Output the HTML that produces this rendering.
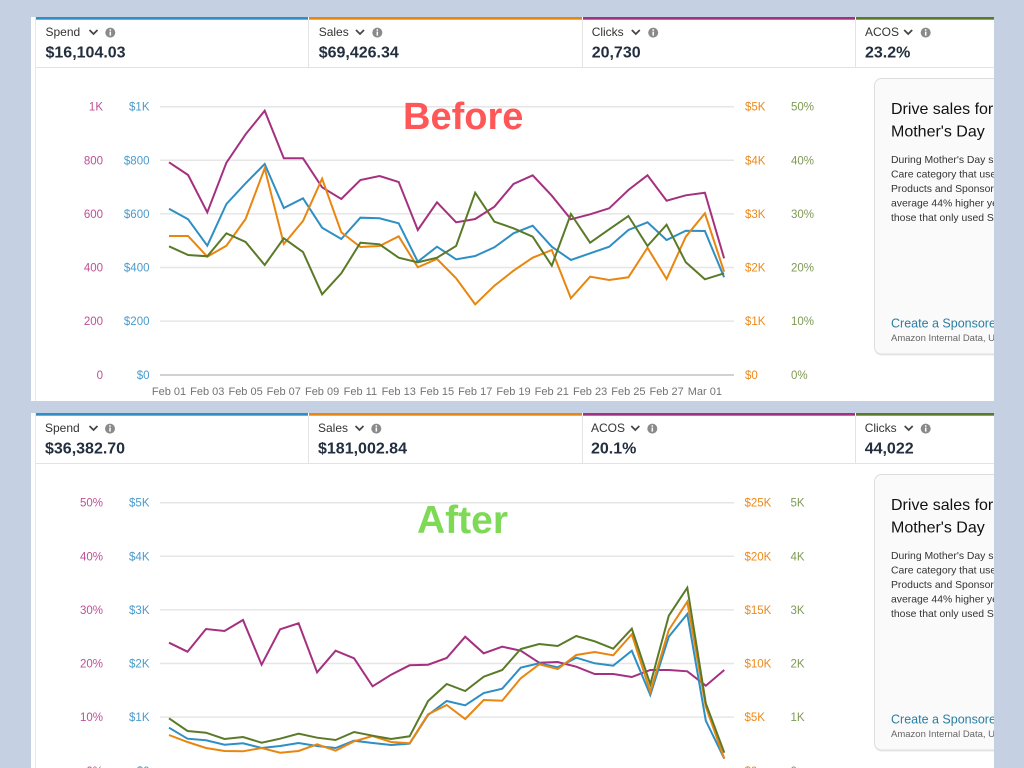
<!DOCTYPE html>
<html>
<head>
<meta charset="utf-8">
<style>
html,body{margin:0;padding:0;background:#c5d0e2;}
svg{display:block;}
text{font-family:"Liberation Sans",Arial,sans-serif;}
</style>
</head>
<body>
<svg width="1024" height="768" viewBox="0 0 1024 768" xmlns="http://www.w3.org/2000/svg">
<defs>
  <clipPath id="pc"><rect x="31" y="0" width="963" height="768"/></clipPath>
  <g id="info">
    <circle cx="0" cy="0" r="5" fill="#8a8a8a"/>
    <rect x="-0.75" y="-1" width="1.5" height="4" fill="#fff"/>
    <circle cx="0" cy="-2.6" r="0.9" fill="#fff"/>
  </g>
</defs>
<rect x="0" y="0" width="1024" height="768" fill="#c5d0e2"/>

<!-- ============ TOP PANEL ============ -->
<g clip-path="url(#pc)">
  <rect x="31" y="17" width="963" height="384" fill="#ffffff"/>
  <line x1="35.5" y1="17" x2="35.5" y2="401" stroke="#e8e8e8" stroke-width="1"/>
  <rect x="36" y="17" width="272" height="2.7" fill="#2e8fc4"/>
  <rect x="309" y="17" width="273" height="2.7" fill="#e8860f"/>
  <rect x="583" y="17" width="272" height="2.7" fill="#a5307f"/>
  <rect x="856" y="17" width="140" height="2.7" fill="#5a7a28"/>
  <line x1="308.5" y1="20" x2="308.5" y2="67" stroke="#e3e3e3"/>
  <line x1="582.5" y1="20" x2="582.5" y2="67" stroke="#e3e3e3"/>
  <line x1="855.5" y1="20" x2="855.5" y2="67" stroke="#e3e3e3"/>
  <line x1="36" y1="67.5" x2="994" y2="67.5" stroke="#e3e3e3"/>

  <text x="45.5" y="36" font-size="12" fill="#333">Spend</text>
  <polyline points="89.5,30 93.5,34 97.5,30" fill="none" stroke="#444" stroke-width="1.7"/>
  <use href="#info" x="110.3" y="32.6"/>
  <text x="45.5" y="57.3" font-size="16" font-weight="bold" fill="#232f3e">$16,104.03</text>

  <text x="318.7" y="36" font-size="12" fill="#333">Sales</text>
  <polyline points="356,30 360,34 364,30" fill="none" stroke="#444" stroke-width="1.7"/>
  <use href="#info" x="377.3" y="32.6"/>
  <text x="318.7" y="57.3" font-size="16" font-weight="bold" fill="#232f3e">$69,426.34</text>

  <text x="591.7" y="36" font-size="12" fill="#333">Clicks</text>
  <polyline points="631.8,30 635.8,34 639.8,30" fill="none" stroke="#444" stroke-width="1.7"/>
  <use href="#info" x="653.2" y="32.6"/>
  <text x="591.7" y="57.3" font-size="16" font-weight="bold" fill="#232f3e">20,730</text>

  <text x="865" y="36" font-size="12" fill="#333">ACOS</text>
  <polyline points="904.2,30 908.2,34 912.2,30" fill="none" stroke="#444" stroke-width="1.7"/>
  <use href="#info" x="925.7" y="32.6"/>
  <text x="865" y="57.3" font-size="16" font-weight="bold" fill="#232f3e">23.2%</text>

  <!-- grid -->
  <g stroke="#e6e6e6" stroke-width="1.5">
    <line x1="160" y1="106.7" x2="734" y2="106.7"/>
    <line x1="160" y1="160.3" x2="734" y2="160.3"/>
    <line x1="160" y1="213.9" x2="734" y2="213.9"/>
    <line x1="160" y1="267.5" x2="734" y2="267.5"/>
    <line x1="160" y1="321.1" x2="734" y2="321.1"/>
  </g>
  <line x1="160" y1="375" x2="734" y2="375" stroke="#d2d2d2" stroke-width="2"/>

  <g font-size="11.5" text-anchor="end" fill="#bf4f96">
    <text x="103" y="110.7">1K</text><text x="103" y="164.3">800</text><text x="103" y="217.9">600</text>
    <text x="103" y="271.5">400</text><text x="103" y="325.1">200</text><text x="103" y="379">0</text>
  </g>
  <g font-size="11.5" text-anchor="end" fill="#4a9bcc">
    <text x="149.5" y="110.7">$1K</text><text x="149.5" y="164.3">$800</text><text x="149.5" y="217.9">$600</text>
    <text x="149.5" y="271.5">$400</text><text x="149.5" y="325.1">$200</text><text x="149.5" y="379">$0</text>
  </g>
  <g font-size="11.5" fill="#ec8a1c">
    <text x="745" y="110.7">$5K</text><text x="745" y="164.3">$4K</text><text x="745" y="217.9">$3K</text>
    <text x="745" y="271.5">$2K</text><text x="745" y="325.1">$1K</text><text x="745" y="379">$0</text>
  </g>
  <g font-size="11.5" fill="#7f9a55">
    <text x="791" y="110.7">50%</text><text x="791" y="164.3">40%</text><text x="791" y="217.9">30%</text>
    <text x="791" y="271.5">20%</text><text x="791" y="325.1">10%</text><text x="791" y="379">0%</text>
  </g>
  <g font-size="11" text-anchor="middle" fill="#737373">
    <text x="169" y="395">Feb 01</text><text x="207.3" y="395">Feb 03</text><text x="245.6" y="395">Feb 05</text>
    <text x="283.8" y="395">Feb 07</text><text x="322.1" y="395">Feb 09</text><text x="360.4" y="395">Feb 11</text>
    <text x="398.7" y="395">Feb 13</text><text x="437" y="395">Feb 15</text><text x="475.2" y="395">Feb 17</text>
    <text x="513.5" y="395">Feb 19</text><text x="551.8" y="395">Feb 21</text><text x="590.1" y="395">Feb 23</text>
    <text x="628.4" y="395">Feb 25</text><text x="666.6" y="395">Feb 27</text><text x="704.9" y="395">Mar 01</text>
  </g>

  <g fill="none" stroke-width="2" stroke-linejoin="miter">
    <polyline stroke="#a5307f" points="169,162.3 188.1,175 207.3,212.3 226.4,162.7 245.6,134.3 264.7,110.7 283.8,158.3 303,158.3 322.1,187.3 341.3,199 360.4,180 379.5,176 398.7,182 417.8,230 437,202.3 456.1,222.3 475.2,219 494.4,206.7 513.5,184 532.7,175.3 551.8,195.7 570.9,219.3 590.1,214.3 609.2,208.3 628.4,190 647.5,175.3 666.6,200.7 685.8,195.3 704.9,192.7 724.1,258.3"/>
    <polyline stroke="#2e8fc4" points="169,208.7 188.1,219.3 207.3,245.7 226.4,204 245.6,183.3 264.7,164 283.8,208 303,198.3 322.1,227.7 341.3,239 360.4,217.7 379.5,218.3 398.7,223.3 417.8,261.7 437,246.7 456.1,259.3 475.2,256 494.4,247.3 513.5,233.3 532.7,225.7 551.8,246.7 570.9,260 590.1,253.3 609.2,246.7 628.4,230 647.5,222.3 666.6,240 685.8,230.7 704.9,231 724.1,277.3"/>
    <polyline stroke="#e8860f" points="169,236 188.1,236 207.3,256.7 226.4,245.7 245.6,219 264.7,168.3 283.8,244 303,221 322.1,178.7 341.3,232.3 360.4,247 379.5,246 398.7,236.3 417.8,267.3 437,259 456.1,278.3 475.2,304.3 494.4,285.7 513.5,270.7 532.7,257.7 551.8,250 570.9,298.3 590.1,276.7 609.2,280 628.4,277.3 647.5,247.7 666.6,279 685.8,236.7 704.9,213.3 724.1,271.7"/>
    <polyline stroke="#5a7a28" points="169,246.3 188.1,255 207.3,256.3 226.4,233.3 245.6,242 264.7,265 283.8,238.3 303,252 322.1,294.3 341.3,273.3 360.4,242.7 379.5,244.3 398.7,257.7 417.8,262.3 437,257.7 456.1,246 475.2,192.7 494.4,221.7 513.5,228.3 532.7,236.7 551.8,265.7 570.9,214 590.1,242.7 609.2,229.3 628.4,216 647.5,246 666.6,224.7 685.8,262.3 704.9,279.3 724.1,273.3"/>
  </g>

  <!-- card -->
  <rect x="874.5" y="79.5" width="150" height="276" rx="7" fill="#e9e9e9"/>
  <rect x="874.5" y="78.5" width="150" height="275.5" rx="7" fill="#fafafa" stroke="#dddddd" stroke-width="1"/>
  <text x="891" y="114" font-size="16" fill="#111">Drive sales for</text>
  <text x="891" y="136.5" font-size="16" fill="#111">Mother's Day</text>
  <g font-size="10.4" fill="#333">
    <text x="891" y="163">During Mother's Day season</text>
    <text x="891" y="177.5">Care category that used</text>
    <text x="891" y="192">Products and Sponsored</text>
    <text x="891" y="206.5">average 44% higher year</text>
    <text x="891" y="221">those that only used Spon</text>
  </g>
  <text x="891" y="327.3" font-size="12.5" fill="#2a7ea3">Create a Sponsored Brands</text>
  <text x="891" y="341" font-size="9.5" fill="#666">Amazon Internal Data, US</text>
</g>

<text x="403" y="129" font-size="38" font-weight="bold" fill="#ff5757">Before</text>

<!-- ============ BOTTOM PANEL ============ -->
<g clip-path="url(#pc)">
 <g transform="translate(0,396)">
  <rect x="31" y="17" width="963" height="380" fill="#ffffff"/>
  <line x1="35.5" y1="17" x2="35.5" y2="400" stroke="#e8e8e8" stroke-width="1"/>
  <rect x="36" y="17" width="272" height="2.7" fill="#2e8fc4"/>
  <rect x="309" y="17" width="273" height="2.7" fill="#e8860f"/>
  <rect x="583" y="17" width="272" height="2.7" fill="#a5307f"/>
  <rect x="856" y="17" width="140" height="2.7" fill="#5a7a28"/>
  <line x1="308.5" y1="20" x2="308.5" y2="67" stroke="#e3e3e3"/>
  <line x1="582.5" y1="20" x2="582.5" y2="67" stroke="#e3e3e3"/>
  <line x1="855.5" y1="20" x2="855.5" y2="67" stroke="#e3e3e3"/>
  <line x1="36" y1="67.5" x2="994" y2="67.5" stroke="#e3e3e3"/>

  <text x="45" y="36" font-size="12" fill="#333">Spend</text>
  <polyline points="89.5,30 93.5,34 97.5,30" fill="none" stroke="#444" stroke-width="1.7"/>
  <use href="#info" x="110" y="32.6"/>
  <text x="45" y="57.6" font-size="16" font-weight="bold" fill="#232f3e">$36,382.70</text>

  <text x="318" y="36" font-size="12" fill="#333">Sales</text>
  <polyline points="355.5,30 359.5,34 363.5,30" fill="none" stroke="#444" stroke-width="1.7"/>
  <use href="#info" x="376.3" y="32.6"/>
  <text x="318" y="57.6" font-size="16" font-weight="bold" fill="#232f3e">$181,002.84</text>

  <text x="591" y="36" font-size="12" fill="#333">ACOS</text>
  <polyline points="631.3,30 635.3,34 639.3,30" fill="none" stroke="#444" stroke-width="1.7"/>
  <use href="#info" x="652.3" y="32.6"/>
  <text x="591" y="57.6" font-size="16" font-weight="bold" fill="#232f3e">20.1%</text>

  <text x="864.7" y="36" font-size="12" fill="#333">Clicks</text>
  <polyline points="904.7,30 908.7,34 912.7,30" fill="none" stroke="#444" stroke-width="1.7"/>
  <use href="#info" x="925.7" y="32.6"/>
  <text x="864.7" y="57.6" font-size="16" font-weight="bold" fill="#232f3e">44,022</text>

  <g stroke="#e6e6e6" stroke-width="1.5">
    <line x1="160" y1="106.7" x2="734" y2="106.7"/>
    <line x1="160" y1="160.3" x2="734" y2="160.3"/>
    <line x1="160" y1="213.9" x2="734" y2="213.9"/>
    <line x1="160" y1="267.5" x2="734" y2="267.5"/>
    <line x1="160" y1="321.1" x2="734" y2="321.1"/>
  </g>
  <line x1="160" y1="375" x2="734" y2="375" stroke="#d2d2d2" stroke-width="2"/>

  <g font-size="11.5" text-anchor="end" fill="#bf4f96">
    <text x="103" y="110.7">50%</text><text x="103" y="164.3">40%</text><text x="103" y="217.9">30%</text>
    <text x="103" y="271.5">20%</text><text x="103" y="325.1">10%</text><text x="103" y="379">0%</text>
  </g>
  <g font-size="11.5" text-anchor="end" fill="#4a9bcc">
    <text x="149.5" y="110.7">$5K</text><text x="149.5" y="164.3">$4K</text><text x="149.5" y="217.9">$3K</text>
    <text x="149.5" y="271.5">$2K</text><text x="149.5" y="325.1">$1K</text><text x="149.5" y="379">$0</text>
  </g>
  <g font-size="11.5" fill="#ec8a1c">
    <text x="744.5" y="110.7">$25K</text><text x="744.5" y="164.3">$20K</text><text x="744.5" y="217.9">$15K</text>
    <text x="744.5" y="271.5">$10K</text><text x="744.5" y="325.1">$5K</text><text x="744.5" y="379">$0</text>
  </g>
  <g font-size="11.5" fill="#7f9a55">
    <text x="790.5" y="110.7">5K</text><text x="790.5" y="164.3">4K</text><text x="790.5" y="217.9">3K</text>
    <text x="790.5" y="271.5">2K</text><text x="790.5" y="325.1">1K</text><text x="790.5" y="379">0</text>
  </g>

  <rect x="874.5" y="79.5" width="150" height="276" rx="7" fill="#e9e9e9"/>
  <rect x="874.5" y="78.5" width="150" height="275.5" rx="7" fill="#fafafa" stroke="#dddddd" stroke-width="1"/>
  <text x="891" y="114" font-size="16" fill="#111">Drive sales for</text>
  <text x="891" y="136.5" font-size="16" fill="#111">Mother's Day</text>
  <g font-size="10.4" fill="#333">
    <text x="891" y="163">During Mother's Day season</text>
    <text x="891" y="177.5">Care category that used</text>
    <text x="891" y="192">Products and Sponsored</text>
    <text x="891" y="206.5">average 44% higher year</text>
    <text x="891" y="221">those that only used Spon</text>
  </g>
  <text x="891" y="327.3" font-size="12.5" fill="#2a7ea3">Create a Sponsored Brands</text>
  <text x="891" y="341" font-size="9.5" fill="#666">Amazon Internal Data, US</text>
 </g>

  <g fill="none" stroke-width="2" stroke-linejoin="miter">
    <polyline stroke="#a5307f" points="169,642.7 187.5,651.7 206,629 224.5,631 243,620 261.6,664.7 280.1,629.3 298.6,623.3 317.1,672.3 335.6,650.7 354.1,658.3 372.6,686.3 391.1,674.7 409.6,665.3 428.1,664.7 446.7,658 465.2,636.7 483.7,653.3 502.2,646.7 520.7,650.7 539.2,662.7 557.7,662 576.2,666.7 594.7,674 613.2,674 631.8,677 650.3,670 668.8,670 687.3,671.3 705.8,685.7 724.3,670"/>
    <polyline stroke="#2e8fc4" points="169,727.7 187.5,738.7 206,740.3 224.5,744.7 243,743.3 261.6,748 280.1,746 298.6,743 317.1,746 335.6,748 354.1,740.7 372.6,743 391.1,745 409.6,743.7 428.1,715 446.7,701 465.2,705.3 483.7,693 502.2,688.7 520.7,667.7 539.2,663.3 557.7,667.3 576.2,657.7 594.7,663.3 613.2,665.7 631.8,650.7 650.3,695 668.8,636.7 687.3,614 705.8,720.7 724.3,758.7"/>
    <polyline stroke="#e8860f" points="169,735 187.5,742 206,748 224.5,751 243,751.3 261.6,748 280.1,752.7 298.6,751 317.1,744.3 335.6,750.7 354.1,741.3 372.6,736 391.1,742 409.6,743.3 428.1,714.3 446.7,705 465.2,719 483.7,700 502.2,700.7 520.7,678.3 539.2,664.3 557.7,669 576.2,655 594.7,652 613.2,655.3 631.8,634.3 650.3,691.7 668.8,630 687.3,601.7 705.8,706.7 724.3,758.7"/>
    <polyline stroke="#5a7a28" points="169,718.3 187.5,731 206,732.7 224.5,739 243,737 261.6,742.7 280.1,738.7 298.6,733.7 317.1,737.7 335.6,740 354.1,732 372.6,735.7 391.1,739 409.6,736.3 428.1,701 446.7,684 465.2,691 483.7,676.7 502.2,670 520.7,649 539.2,644 557.7,646 576.2,636 594.7,641.3 613.2,648.7 631.8,628.7 650.3,684.3 668.8,615.7 687.3,587.7 705.8,703.3 724.3,752.7"/>
  </g>
</g>

<text x="417" y="533" font-size="39" font-weight="bold" fill="#7ed957">After</text>
</svg>
</body>
</html>
